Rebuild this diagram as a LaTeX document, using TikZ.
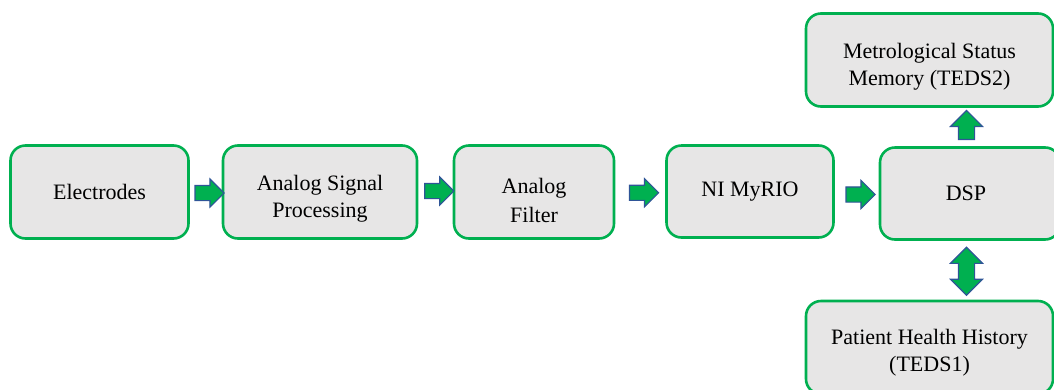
\documentclass[tikz,border=0pt]{standalone}
\usepackage{fontspec}
\setmainfont{Liberation Serif}
\newfontfamily\tnr{Liberation Serif}
\usetikzlibrary{shapes.arrows,calc}
\definecolor{boxgreen}{HTML}{00B050}
\definecolor{boxfill}{HTML}{E7E6E6}
\definecolor{arrowblue}{HTML}{2F5597}
\tikzset{
  blk/.style={draw=boxgreen, fill=boxfill, line width=2.6pt, rounded corners=15pt,
    align=center, font=\tnr\fontsize{22}{27}\selectfont, inner sep=0pt},
  txt/.style={align=center, font=\tnr\fontsize{22}{27}\selectfont, inner sep=0pt},
  rarrow/.style={single arrow, fill=boxgreen, draw=arrowblue, line width=1.1pt,
    minimum height=29pt, minimum width=27pt, inner sep=7pt,
    single arrow head extend=6.5pt, single arrow head indent=0pt},
  darrow/.style={double arrow, fill=boxgreen, draw=arrowblue, line width=1.1pt,
    minimum height=48pt, minimum width=31pt, inner sep=7.5pt,
    double arrow head extend=8pt, double arrow head indent=0pt, rotate=90},
}
\begin{document}
\begin{tikzpicture}[x=1pt,y=-1pt]
\useasboundingbox (0,0) rectangle (1054,389);
\node[blk, minimum width=178pt, minimum height=93pt] (el) at (99.5,192) {Electrodes};
\node[blk, minimum width=194pt, minimum height=93pt] (asp) at (320,192) {};
\node[txt] (aspt) at ($(asp.center)+(0,7)$) {Analog Signal\\Processing};
\node[blk, minimum width=160pt, minimum height=93pt] (af) at (534,192) {};
\node[txt] (aft) at ($(af.center)+(0,8)$) {Analog\\[2pt]Filter};
\node[blk, minimum width=167pt, minimum height=92pt] (ni) at (750,191.5) {NI MyRIO};
\node[blk, minimum width=180pt, minimum height=92pt] (dsp) at (970,193.5) {\hspace*{-8pt}DSP};
\node[blk, minimum width=247pt, minimum height=93pt] (ms) at (929.5,60) {};
\node[txt] (mst) at ($(ms.center)+(0,7)$) {Metrological Status\\Memory (TEDS2)};
\node[blk, minimum width=247pt, minimum height=93pt] (ph) at (929.5,347.5) {};
\node[txt] (pht) at ($(ph.center)+(0,5)$) {Patient Health History\\(TEDS1)};
\node[rarrow] (a1) at ($(el.east)!0.5!(asp.west)+(0,1)$) {};
\node[rarrow] (a2) at ($(asp.east)!0.5!(af.west)+(0,-1)$) {};
\node[rarrow] (a3) at ($(af.east)!0.5!(ni.west)+(0,1)$) {};
\node[rarrow] (a4) at ($(ni.east)!0.5!(dsp.west)+(0,2)$) {};
\coordinate (up) at ($(ms.south)!0.5!(dsp.north -| ms.south)+(37,2)$);
\node[rarrow, rotate=90, minimum width=31pt, inner sep=7.5pt, single arrow head extend=8pt] (a5) at (up) {};
\node[darrow] (a6) at ($(dsp.south -| up)!0.5!(ph.north -| up)+(0,1)$) {};
\end{tikzpicture}
\end{document}
